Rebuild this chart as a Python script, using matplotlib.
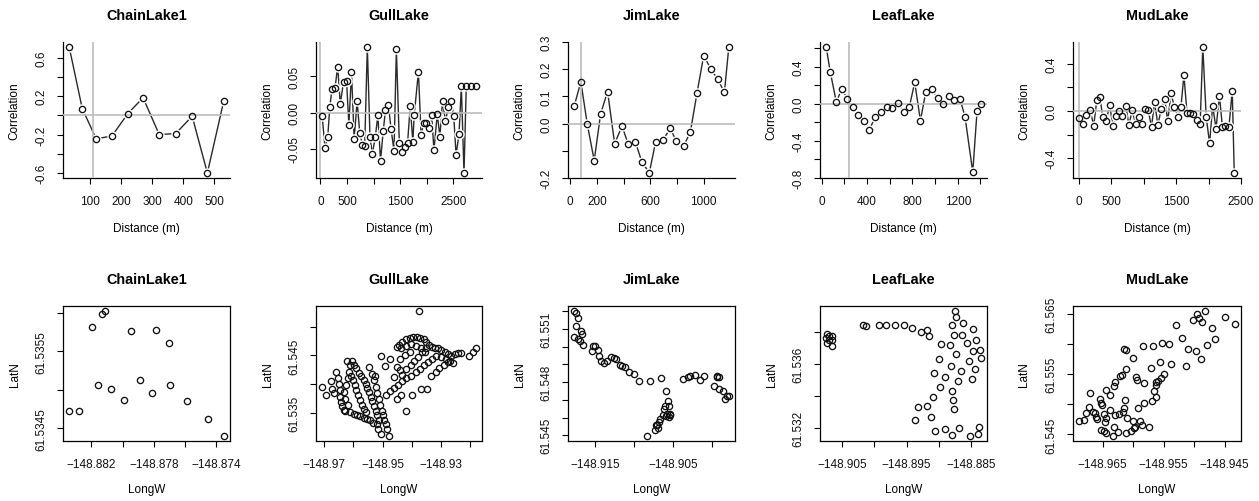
import matplotlib
matplotlib.use('Agg')
import matplotlib.pyplot as plt
import numpy as np

plt.rcParams['font.family'] = ['Liberation Sans', 'DejaVu Sans']
plt.rcParams['font.size'] = 8.5

lakes = ['ChainLake1', 'GullLake', 'JimLake', 'LeafLake', 'MudLake']

# ---- correlograms (top row) ----
chain_dist = [32, 74, 119, 170, 221, 270, 322, 375, 428, 477, 530]
chain_corr = [0.711, 0.071, -0.245, -0.214, 0.019, 0.183, -0.200, -0.190, -0.009, -0.600, 0.151]

gull_dist = [31, 87, 136, 174, 217, 273, 323, 372, 434, 490,
             534, 583, 633, 689, 738, 788, 831, 881, 931, 974,
             1030, 1079, 1129, 1179, 1222, 1278, 1328, 1383, 1427, 1483,
             1538, 1588, 1638, 1687, 1737, 1762, 1842, 1892, 1942, 1991,
             2047, 2091, 2134, 2196, 2246, 2295, 2351, 2401, 2457, 2506,
             2550, 2605, 2649, 2699, 2742, 2829, 2922]
gull_corr = [-0.005, -0.049, -0.034, 0.007, 0.033, 0.034, 0.063, 0.012, 0.042, 0.043,
             -0.017, 0.056, -0.037, 0.016, -0.028, -0.044, -0.046, 0.090, -0.034, -0.057,
             -0.034, -0.004, -0.066, -0.026, 0.003, 0.010, -0.023, -0.053, 0.087, -0.042,
             -0.054, -0.048, -0.042, 0.009, -0.040, -0.004, 0.056, -0.031, -0.015, -0.014,
             -0.021, -0.004, -0.052, -0.002, -0.033, 0.016, -0.012, 0.007, 0.016, -0.005,
             -0.058, -0.030, 0.036, -0.083, 0.036, 0.036, 0.036]

jim_dist = [30, 80, 128, 180, 228, 280, 333, 388, 435, 488, 538, 593,
            640, 693, 750, 795, 850, 900, 950, 1000, 1053, 1105, 1155, 1188]
jim_corr = [0.064, 0.154, -0.002, -0.136, 0.036, 0.118, -0.074, -0.009, -0.076, -0.067, -0.143, -0.180,
            -0.067, -0.061, -0.018, -0.065, -0.082, -0.031, 0.113, 0.250, 0.201, 0.163, 0.115, 0.281]

leaf_dist = [41, 77, 130, 180, 224, 278, 325, 375, 422, 473, 526, 576, 620, 673, 724,
             774, 821, 871, 918, 969, 1022, 1072, 1119, 1170, 1220, 1264, 1332, 1370, 1403]
leaf_corr = [0.615, 0.345, 0.022, 0.165, 0.058, -0.032, -0.122, -0.187, -0.277, -0.140, -0.083, -0.036, -0.043, 0.014, -0.083,
             -0.029, 0.234, -0.180, 0.129, 0.165, 0.065, -0.004, 0.086, 0.043, 0.054, -0.140, -0.737, -0.076, 0.000]

mud_dist = [5, 57, 115, 172, 229, 276, 323, 370, 422, 474,
            526, 573, 625, 672, 724, 771, 823, 875, 922, 969,
            1016, 1068, 1120, 1167, 1219, 1271, 1323, 1370, 1422, 1474,
            1526, 1573, 1620, 1667, 1719, 1766, 1818, 1870, 1911, 1964,
            2016, 2063, 2115, 2167, 2214, 2260, 2313, 2365, 2396]
mud_corr = [-0.060, -0.110, -0.035, 0.010, -0.125, 0.090, 0.120, -0.055, -0.085, 0.050,
            -0.130, -0.040, -0.005, -0.045, 0.045, -0.120, 0.005, -0.115, -0.055, -0.110,
            0.020, 0.005, -0.135, 0.075, -0.120, 0.020, 0.100, -0.085, 0.150, 0.030,
            -0.050, 0.030, 0.300, -0.015, -0.020, -0.025, -0.075, -0.110, 0.540, -0.055,
            -0.275, 0.045, -0.150, 0.130, -0.140, -0.125, -0.140, 0.170, -0.525]

# distance of the grey vertical reference line
vlines = [109, 0, 78, 245, 0]

# ticks / tick labels (R drops overlapping labels)
top_xticks = [[100, 200, 300, 400, 500], [0, 500, 1000, 1500, 2000, 2500],
              [0, 200, 400, 600, 800, 1000], [0, 200, 400, 600, 800, 1000, 1200, 1400],
              [0, 500, 1000, 1500, 2000, 2500]]
top_xlabels = [['100', '200', '300', '400', '500'], ['0', '500', '', '1500', '', '2500'],
               ['0', '200', '', '600', '', '1000'], ['0', '', '400', '', '800', '', '1200', ''],
               ['0', '500', '', '1500', '', '2500']]
top_yticks = [[-0.6, -0.4, -0.2, 0.0, 0.2, 0.4, 0.6], [-0.05, 0.0, 0.05],
              [-0.2, -0.1, 0.0, 0.1, 0.2, 0.3], [-0.8, -0.6, -0.4, -0.2, 0.0, 0.2, 0.4, 0.6],
              [-0.4, -0.2, 0.0, 0.2, 0.4]]
top_ylabels = [['-0.6', '', '-0.2', '', '0.2', '', '0.6'], ['-0.05', '0.00', '0.05'],
               ['-0.2', '', '0.0', '0.1', '0.2', '0.3'], ['-0.8', '', '-0.4', '', '0.0', '', '0.4', ''],
               ['-0.4', '', '0.0', '', '0.4']]

# ---- sample locations (bottom row), (LongW, LatN) ----
chain_pts = [(-148.88341, 61.534728), (-148.88277, 61.534724), (-148.88198, 61.535823), (-148.88155, 61.535060),
             (-148.88129, 61.535983), (-148.88110, 61.536026), (-148.88074, 61.535017), (-148.87990, 61.534875),
             (-148.87943, 61.535772), (-148.87890, 61.535134), (-148.87809, 61.534966), (-148.87785, 61.535780),
             (-148.87702, 61.535612), (-148.87695, 61.535060), (-148.87586, 61.534858), (-148.87453, 61.534616),
             (-148.87353, 61.534401)]

gull_pts = [(-148.9707, 61.5395), (-148.9695, 61.5382), (-148.9678, 61.5405), (-148.9674, 61.5392),
            (-148.9667, 61.5384), (-148.9658, 61.5421), (-148.9654, 61.5411), (-148.9650, 61.5401),
            (-148.9647, 61.5389), (-148.9645, 61.5378), (-148.9641, 61.5369), (-148.9638, 61.5362),
            (-148.9633, 61.5356), (-148.9628, 61.5353), (-148.9622, 61.5441), (-148.9613, 61.5434),
            (-148.9605, 61.5441), (-148.9597, 61.5434), (-148.9590, 61.5428), (-148.9582, 61.5420),
            (-148.9574, 61.5414), (-148.9565, 61.5408), (-148.9558, 61.5401), (-148.9553, 61.5394),
            (-148.9547, 61.5386), (-148.9540, 61.5378), (-148.9535, 61.5370), (-148.9529, 61.5362),
            (-148.9523, 61.5354), (-148.9518, 61.5346), (-148.9513, 61.5338), (-148.9520, 61.5330),
            (-148.9531, 61.5333), (-148.9543, 61.5337), (-148.9554, 61.5340), (-148.9565, 61.5342),
            (-148.9577, 61.5345), (-148.9588, 61.5346), (-148.9599, 61.5348), (-148.9610, 61.5351),
            (-148.9620, 61.5363), (-148.9628, 61.5374), (-148.9631, 61.5386), (-148.9625, 61.5398),
            (-148.9620, 61.5410), (-148.9615, 61.5421), (-148.9607, 61.5415), (-148.9601, 61.5407),
            (-148.9596, 61.5398), (-148.9590, 61.5389), (-148.9583, 61.5381), (-148.9577, 61.5372),
            (-148.9570, 61.5364), (-148.9563, 61.5357), (-148.9556, 61.5351), (-148.9548, 61.5430),
            (-148.9536, 61.5418), (-148.9529, 61.5407), (-148.9524, 61.5395), (-148.9519, 61.5384),
            (-148.9513, 61.5374), (-148.9507, 61.5363), (-148.9503, 61.5354), (-148.9498, 61.5346),
            (-148.9494, 61.5338), (-148.9489, 61.5330), (-148.9484, 61.5322), (-148.9477, 61.5310),
            (-148.9506, 61.5314), (-148.9515, 61.5323), (-148.9526, 61.5415),
            (-148.9506, 61.5449), (-148.9492, 61.5432), (-148.9475, 61.5444), (-148.9461, 61.5412),
            (-148.9452, 61.5430), (-148.9441, 61.5424), (-148.9432, 61.5416), (-148.9420, 61.5411),
            (-148.9488, 61.5381), (-148.9475, 61.5388), (-148.9461, 61.5393), (-148.9447, 61.5399),
            (-148.9434, 61.5405), (-148.9418, 61.5427), (-148.9404, 61.5433), (-148.9391, 61.5440),
            (-148.9377, 61.5447), (-148.9364, 61.5455), (-148.9350, 61.5462), (-148.9401, 61.5415),
            (-148.9386, 61.5421), (-148.9373, 61.5427), (-148.9359, 61.5433), (-148.9344, 61.5438),
            (-148.9330, 61.5444), (-148.9316, 61.5449), (-148.9452, 61.5375), (-148.9435, 61.5381),
            (-148.9420, 61.5353), (-148.9398, 61.5381), (-148.9369, 61.5391), (-148.9348, 61.5391),
            (-148.9333, 61.5414), (-148.9318, 61.5421), (-148.9305, 61.5428), (-148.9290, 61.5434),
            (-148.9274, 61.5438), (-148.9259, 61.5436),
            (-148.9452, 61.5464), (-148.9443, 61.5468), (-148.9432, 61.5473), (-148.9418, 61.5478),
            (-148.9407, 61.5480), (-148.9395, 61.5482), (-148.9382, 61.5481), (-148.9370, 61.5480),
            (-148.9359, 61.5478), (-148.9350, 61.5473), (-148.9339, 61.5468), (-148.9330, 61.5464),
            (-148.9321, 61.5462), (-148.9309, 61.5462), (-148.9298, 61.5459), (-148.9287, 61.5456),
            (-148.9275, 61.5452), (-148.9264, 61.5449), (-148.9253, 61.5452), (-148.9241, 61.5454),
            (-148.9230, 61.5454), (-148.9203, 61.5449), (-148.9191, 61.5456), (-148.9180, 61.5463),
            (-148.9435, 61.5462), (-148.9418, 61.5466), (-148.9401, 61.5470), (-148.9384, 61.5467),
            (-148.9367, 61.5463), (-148.9356, 61.5456), (-148.9407, 61.5456), (-148.9424, 61.5450),
            (-148.9441, 61.5444), (-148.9299, 61.5447), (-148.9282, 61.5444), (-148.9268, 61.5441),
            (-148.9375, 61.5527)]

jim_pts = [(-148.91770, 61.55201), (-148.91744, 61.55192), (-148.91723, 61.55164), (-148.91744, 61.55117),
           (-148.91684, 61.55089), (-148.91770, 61.55057), (-148.91671, 61.55070), (-148.91727, 61.55042),
           (-148.91693, 61.55033), (-148.91663, 61.55011), (-148.91526, 61.55001), (-148.91500, 61.55001),
           (-148.91470, 61.54982), (-148.91547, 61.54977), (-148.91453, 61.54949), (-148.91427, 61.54921),
           (-148.91384, 61.54906), (-148.91350, 61.54921), (-148.91294, 61.54939), (-148.91264, 61.54936),
           (-148.91234, 61.54930), (-148.91187, 61.54896), (-148.91153, 61.54889), (-148.91114, 61.54883),
           (-148.91063, 61.54859), (-148.91007, 61.54846), (-148.90939, 61.54807), (-148.90793, 61.54807),
           (-148.90660, 61.54824), (-148.90840, 61.54496), (-148.90729, 61.54528), (-148.90707, 61.54556),
           (-148.90681, 61.54575), (-148.90720, 61.54560), (-148.90699, 61.54541), (-148.90664, 61.54594),
           (-148.90634, 61.54616), (-148.90613, 61.54650), (-148.90600, 61.54668), (-148.90579, 61.54622),
           (-148.90557, 61.54603), (-148.90587, 61.54608), (-148.90536, 61.54622), (-148.90566, 61.54693),
           (-148.90557, 61.54668), (-148.90591, 61.54752), (-148.90544, 61.54612), (-148.90373, 61.54818),
           (-148.90309, 61.54831), (-148.90278, 61.54837), (-148.90214, 61.54840), (-148.90158, 61.54814),
           (-148.90107, 61.54833), (-148.89936, 61.54837), (-148.89914, 61.54829), (-148.89944, 61.54831),
           (-148.89978, 61.54777), (-148.89906, 61.54762), (-148.89858, 61.54752), (-148.89807, 61.54724),
           (-148.89841, 61.54702), (-148.89786, 61.54724)]

leaf_pts = [(-148.90733, 61.53785), (-148.90702, 61.53771), (-148.90743, 61.53758), (-148.90650, 61.53775),
            (-148.90702, 61.53744), (-148.90733, 61.53727), (-148.90650, 61.53744), (-148.90655, 61.53709),
            (-148.90174, 61.53841), (-148.90122, 61.53837), (-148.89930, 61.53841), (-148.89811, 61.53841),
            (-148.89682, 61.53841), (-148.89542, 61.53841), (-148.89412, 61.53820), (-148.89283, 61.53800),
            (-148.89189, 61.53810), (-148.89153, 61.53775), (-148.88749, 61.53928), (-148.88739, 61.53889),
            (-148.88791, 61.53841), (-148.88620, 61.53853), (-148.88475, 61.53816), (-148.88765, 61.53779),
            (-148.88646, 61.53779), (-148.88557, 61.53729), (-148.88423, 61.53750), (-148.88972, 61.53719),
            (-148.88827, 61.53713), (-148.88361, 61.53686), (-148.88475, 61.53680), (-148.88739, 61.53661),
            (-148.88350, 61.53634), (-148.88998, 61.53630), (-148.88532, 61.53616), (-148.88811, 61.53585),
            (-148.88433, 61.53568), (-148.88661, 61.53556), (-148.89075, 61.53541), (-148.88899, 61.53516),
            (-148.88485, 61.53502), (-148.88697, 61.53490), (-148.88982, 61.53454), (-148.88796, 61.53430),
            (-148.89091, 61.53390), (-148.88775, 61.53372), (-148.88760, 61.53318), (-148.89319, 61.53328),
            (-148.89189, 61.53334), (-148.89376, 61.53250), (-148.89117, 61.53264), (-148.89060, 61.53177),
            (-148.88905, 61.53194), (-148.88682, 61.53196), (-148.88791, 61.53155), (-148.88516, 61.53148),
            (-148.88381, 61.53202), (-148.88397, 61.53163)]

mud_pts = [(-148.96884, 61.54727), (-148.96812, 61.54738), (-148.96774, 61.54848), (-148.96703, 61.55191),
           (-148.96719, 61.54953), (-148.96659, 61.54876), (-148.96632, 61.54848), (-148.96604, 61.54793),
           (-148.96593, 61.54754), (-148.96538, 61.55086), (-148.96527, 61.55030), (-148.96505, 61.54986),
           (-148.96473, 61.54832), (-148.96456, 61.54710), (-148.96440, 61.55235), (-148.96440, 61.54776),
           (-148.96527, 61.54572), (-148.96484, 61.54555), (-148.96440, 61.54528), (-148.96374, 61.55152),
           (-148.96385, 61.54898), (-148.96330, 61.54472), (-148.96319, 61.54616), (-148.96292, 61.54820),
           (-148.96253, 61.54544), (-148.96237, 61.54832), (-148.96319, 61.55312), (-148.96292, 61.55373),
           (-148.96221, 61.55467), (-148.96182, 61.55483), (-148.96144, 61.55914), (-148.96111, 61.55898),
           (-148.96111, 61.55594), (-148.96155, 61.54942), (-148.96127, 61.55069), (-148.96166, 61.54876),
           (-148.96100, 61.54765), (-148.96111, 61.54517), (-148.96034, 61.54555), (-148.96001, 61.54727),
           (-148.96007, 61.55776), (-148.95990, 61.54599), (-148.95974, 61.54627), (-148.95947, 61.55456),
           (-148.95936, 61.55401), (-148.95925, 61.54931), (-148.95881, 61.54721), (-148.95853, 61.54655),
           (-148.95826, 61.55356), (-148.95826, 61.55014), (-148.95837, 61.55970), (-148.95744, 61.54627),
           (-148.95700, 61.55605), (-148.95689, 61.55053), (-148.95673, 61.55970), (-148.95651, 61.55224),
           (-148.95629, 61.55318), (-148.95623, 61.55373), (-148.95618, 61.55124), (-148.95568, 61.55704),
           (-148.95596, 61.55384), (-148.95552, 61.55434), (-148.95525, 61.56025), (-148.95492, 61.55511),
           (-148.95415, 61.56008), (-148.95382, 61.55666), (-148.95300, 61.56323), (-148.95196, 61.56102),
           (-148.95135, 61.55633), (-148.95103, 61.55914), (-148.95015, 61.56401), (-148.94966, 61.55892),
           (-148.94960, 61.56500), (-148.94916, 61.56445), (-148.94883, 61.55760), (-148.94878, 61.56379),
           (-148.94818, 61.56555), (-148.94796, 61.55992), (-148.94714, 61.56268), (-148.94659, 61.56091),
           (-148.94500, 61.56450), (-148.94335, 61.56340)]

bot_xticks = [[-148.882, -148.880, -148.878, -148.876, -148.874],
              [-148.97, -148.96, -148.95, -148.94, -148.93, -148.92],
              [-148.915, -148.910, -148.905, -148.900],
              [-148.905, -148.900, -148.895, -148.890, -148.885],
              [-148.965, -148.960, -148.955, -148.950, -148.945]]
bot_xlabels = [['\u2212148.882', '', '\u2212148.878', '', '\u2212148.874'],
               ['\u2212148.97', '', '\u2212148.95', '', '\u2212148.93', ''],
               ['\u2212148.915', '', '\u2212148.905', ''],
               ['\u2212148.905', '', '\u2212148.895', '', '\u2212148.885'],
               ['\u2212148.965', '', '\u2212148.955', '', '\u2212148.945']]
bot_yticks = [[61.5345, 61.5350, 61.5355, 61.5360],
              [61.535, 61.540, 61.545, 61.550],
              [61.545, 61.546, 61.547, 61.548, 61.549, 61.550, 61.551, 61.552],
              [61.532, 61.534, 61.536, 61.538],
              [61.545, 61.550, 61.555, 61.560, 61.565]]
bot_ylabels = [['61.5345', '', '61.5355', ''],
               ['61.535', '', '61.545', ''],
               ['61.545', '', '', '61.548', '', '', '61.551', ''],
               ['61.532', '', '61.536', ''],
               ['61.545', '', '61.555', '', '61.565']]

dists = [chain_dist, gull_dist, jim_dist, leaf_dist, mud_dist]
corrs = [chain_corr, gull_corr, jim_corr, leaf_corr, mud_corr]
pts = [chain_pts, gull_pts, jim_pts, leaf_pts, mud_pts]


def rlim(v):
    # R style axis range: data range plus 4% on each side
    lo, hi = min(v), max(v)
    d = (hi - lo) * 0.04
    return lo - d, hi + d


def style_axes(ax, xt, xtl, yt, ytl, title, xlab, ylab, ylab_x, xlab_y):
    ax.set_xticks(xt)
    ax.set_xticklabels(xtl)
    ax.set_yticks(yt)
    ax.set_yticklabels(ytl, rotation=90, va='center')
    ax.tick_params(direction='out', length=4.5, width=0.8, color='black',
                   labelsize=8.5, labelcolor='#111111')
    ax.tick_params(axis='x', pad=7.5)
    ax.tick_params(axis='y', pad=6.5)
    for s in ax.spines.values():
        s.set_linewidth(0.9)
        s.set_color('black')
    ax.set_xlabel(xlab, fontsize=8.5, va='center')
    ax.xaxis.set_label_coords(0.5, xlab_y)
    ax.set_ylabel(ylab, fontsize=8.5, va='center')
    ax.yaxis.set_label_coords(ylab_x, 0.5)
    ax.text(0.5, 1.2, title, transform=ax.transAxes, ha='center', va='center',
            fontsize=10.4, fontweight='bold')


fig = plt.figure(figsize=(12.59, 5.02), dpi=100)
W, H = 1259.0, 502.0
cols = [(63, 230), (316, 482), (568, 735), (820, 987), (1073, 1241)]

for i, lake in enumerate(lakes):
    x0, x1 = cols[i]

    # top row: correlogram
    ax = fig.add_axes([x0 / W, 1 - 179 / H, (x1 - x0) / W, (179 - 43) / H])
    d = np.array(dists[i])
    c = np.array(corrs[i])
    ax.plot(d, c, color='#2a2a2a', lw=1.0, zorder=1)
    ax.plot(d, c, 'o', ms=7.5, mfc='white', mec='none', zorder=2)
    ax.axhline(0, color='#bcbcbc', lw=1.2, zorder=3)
    ax.axvline(vlines[i], color='#bcbcbc', lw=1.2, zorder=3)
    ax.plot(d, c, 'o', ms=4.5, mfc='none', mec='#111111', mew=0.95, zorder=4)
    ax.set_xlim(rlim(d))
    ax.set_ylim(rlim(c))
    ax.spines['top'].set_visible(False)
    ax.spines['right'].set_visible(False)
    style_axes(ax, top_xticks[i], top_xlabels[i], top_yticks[i], top_ylabels[i],
               lake, 'Distance (m)', 'Correlation', -0.29, -0.365)

    # bottom row: sample map
    ax = fig.add_axes([x0 / W, 1 - 442 / H, (x1 - x0) / W, (442 - 307) / H])
    p = np.array(pts[i])
    ax.plot(p[:, 0], p[:, 1], 'o', ms=4.5, mfc='none', mec='#111111', mew=0.95)
    ax.set_xlim(rlim(p[:, 0]))
    ax.set_ylim(rlim(p[:, 1]))
    style_axes(ax, bot_xticks[i], bot_xlabels[i], bot_yticks[i], bot_ylabels[i],
               lake, 'LongW', 'LatN', -0.29, -0.355)

fig.savefig('out.png', dpi=100, facecolor='white')
